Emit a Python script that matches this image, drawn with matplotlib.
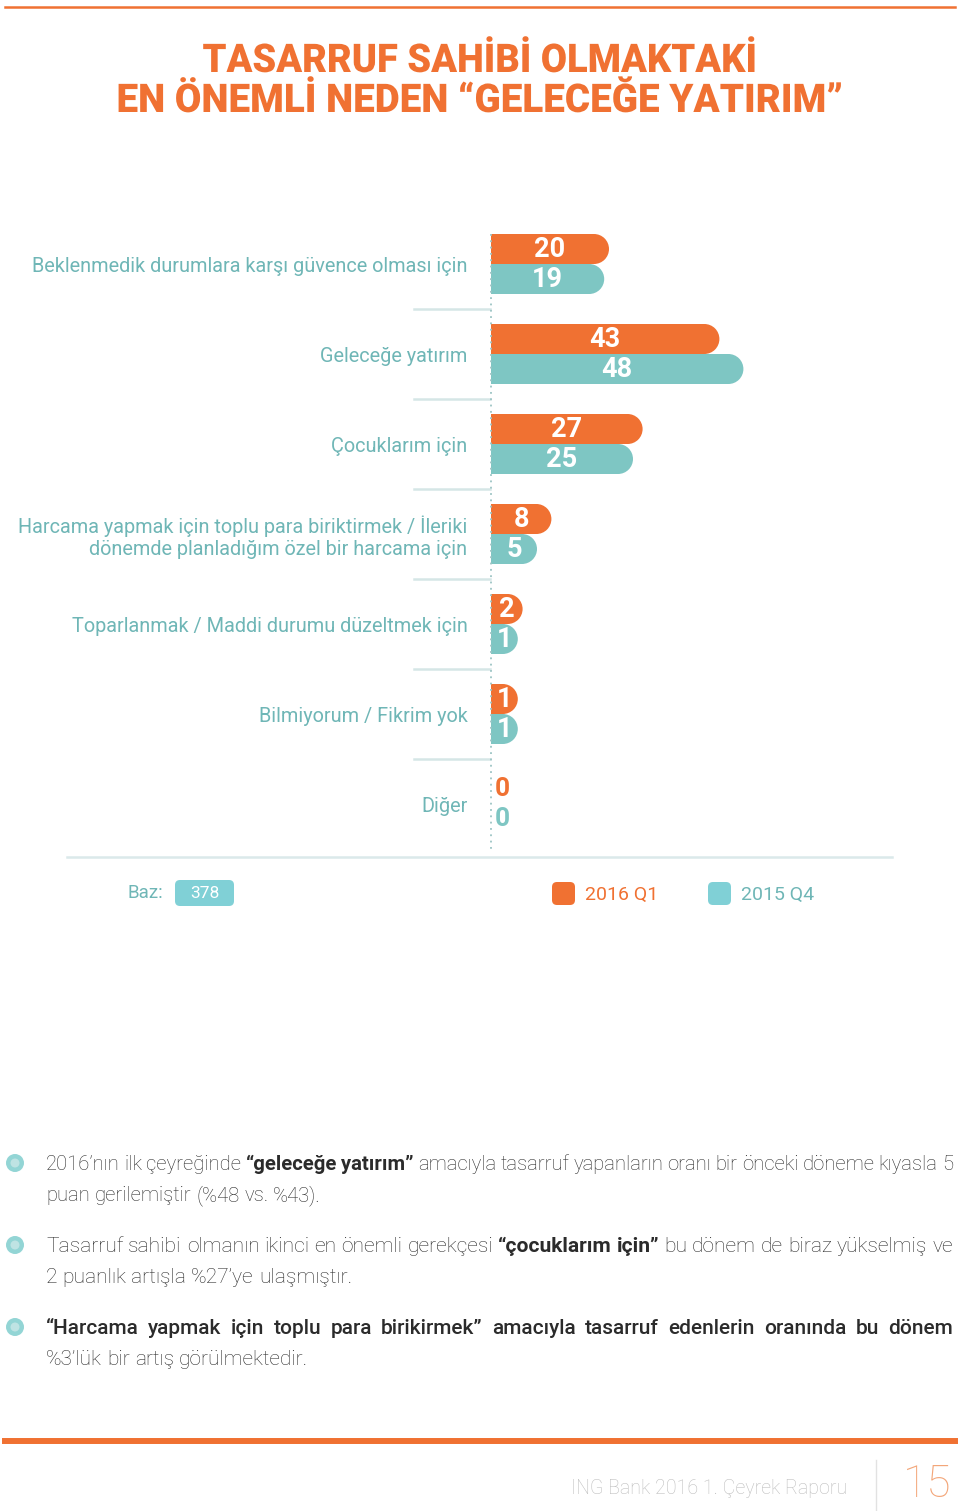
import matplotlib.pyplot as plt
import matplotlib.patheffects as pe
from matplotlib.transforms import Affine2D
from matplotlib.patches import Ellipse, FancyBboxPatch, Circle

# =============================================================================
# veriler
# =============================================================================
categories = ['Beklenmedik durumlara karşı güvence olması için',
              'Geleceğe yatırım',
              'Çocuklarım için',
              'Harcama yapmak için toplu para biriktirmek / İleriki\ndönemde planladığım özel bir harcama için',
              'Toparlanmak / Maddi durumu düzeltmek için',
              'Bilmiyorum / Fikrim yok',
              'Diğer']
q1_2016 = [20, 43, 27, 8, 2, 1, 0]
q4_2015 = [19, 48, 25, 5, 1, 1, 0]
series_names = ['2016 Q1', '2015 Q4']
base_n = 378

title_lines = ['TASARRUF SAHİBİ OLMAKTAKİ', 'EN ÖNEMLİ NEDEN “GELECEĞE YATIRIM”']

# her madde: (ilk satir parcalari, ikinci satir parcalari)
bullets = [
    ([('2016’nın ilk çeyreğinde', 'light'), ('“geleceğe yatırım”', 'bold'),
      ('amacıyla tasarruf yapanların oranı bir önceki döneme kıyasla 5', 'light')],
     [('puan gerilemiştir (%48 vs. %43).', 'light')]),
    ([('Tasarruf sahibi olmanın ikinci en önemli gerekçesi', 'light'), ('“çocuklarım için”', 'bold'),
      ('bu dönem de biraz yükselmiş ve', 'light')],
     [('2 puanlık artışla %27’ye ulaşmıştır.', 'light')]),
    ([('“Harcama yapmak için toplu para birikirmek” amacıyla tasarruf edenlerin oranında bu dönem', 'medium')],
     [('%3’lük bir artış görülmektedir.', 'light')]),
]
footer_text = 'ING Bank 2016 1. Çeyrek Raporu'
page_no = '15'

# renkler
ORANGE = '#f07132'
TEAL = '#7ec6c3'
TEAL_LEG = '#80d0d6'
LAB = '#6fb6b6'
FONT = ['Roboto', 'DejaVu Sans']

W, H = 960, 1511
fig = plt.figure(figsize=(W / 100, H / 100), dpi=100)
renderer = fig.canvas.get_renderer()


def fax(x0, y0, x1, y1):
    return [x0 / W, 1 - y1 / H, (x1 - x0) / W, (y1 - y0) / H]


class Squeeze(pe.AbstractPathEffect):
    # basligi yatayda daraltmak icin (condensed font yok)
    def __init__(self, sx, cx):
        super().__init__()
        self.sx, self.cx = sx, cx

    def draw_path(self, renderer, gc, tpath, affine, rgbFace=None):
        a = affine + Affine2D().translate(-self.cx, 0).scale(self.sx, 1).translate(self.cx, 0)
        renderer.draw_path(gc, tpath, a, rgbFace)


# arka plan eksenleri, piksel koordinatlari
bg = fig.add_axes([0, 0, 1, 1], zorder=-1)
bg.set_xlim(0, W)
bg.set_ylim(H, 0)
bg.axis('off')

# =============================================================================
# grafik
# =============================================================================
ax = fig.add_axes(fax(491, 230, 900, 856))
ax.set_facecolor('none')
PX = 4.8            # bir birim kac piksel
BASE = -22 / PX     # cubuklarin basladigi yer
ax.set_xlim(BASE, BASE + 409 / PX)
ax.set_ylim(6 + 52 / 90, -34 / 90)
bar_h = 30 / 90
cap = 15 / PX

for k, (vals, col) in enumerate([(q1_2016, ORANGE), (q4_2015, TEAL)]):
    off = (-0.5 + k) * bar_h
    for i, v in enumerate(vals):
        y = i + off
        if v > 0:
            ax.barh(y, (v - cap) - BASE, left=BASE, height=bar_h, color=col, linewidth=0)
            ax.add_patch(Ellipse((v - cap, y), 2 * cap, bar_h, color=col, lw=0))
            ax.text((BASE + v) / 2, y + 0.01, str(v), color='white', ha='center', va='center',
                    fontsize=19.5, fontweight='bold', family=FONT)
        else:
            ax.text((BASE + v) / 2, y, str(v), color=col, ha='center', va='center',
                    fontsize=19, fontweight='bold', family=FONT)

ax.set_yticks(range(len(categories)))
ax.set_yticklabels(categories, fontsize=14.3, color=LAB, family=FONT)
ax.tick_params(axis='y', length=0, pad=17)
ax.set_xticks([])
for s in ax.spines.values():
    s.set_visible(False)

# noktali eksen cizgisi ve ayiricilar
ax.plot([BASE, BASE], [-0.33, 6.53], ls=(0, (1, 2.5)), lw=1.3, color='#9cc4c4',
        clip_on=False, zorder=5)
for i in range(len(categories) - 1):
    ax.plot([BASE - 77 / PX, BASE - 1 / PX], [i + 0.5, i + 0.5], color='#d5e6e6', lw=1.8,
            clip_on=False)

# =============================================================================
# ust kisim, baslik
# =============================================================================
bg.plot([5, 955], [7, 7], color=ORANGE, lw=1.8)
for j, (line, target) in enumerate(zip(title_lines, [555, 727])):
    t = bg.text(480, 72 + 40 * j, line, ha='center', va='baseline', fontsize=28.5,
                fontweight='heavy', color=ORANGE, family=FONT)
    w = t.get_window_extent(renderer).width
    t.set_path_effects([Squeeze(target / w, 480)])

# alt cizgi, lejant
bg.plot([67, 892], [857, 857], color='#dbe9ea', lw=1.8)
bg.text(163, 893, 'Baz:', ha='right', va='center', fontsize=13.5, color=LAB, family=FONT)
bg.add_patch(FancyBboxPatch((175, 880), 59, 26, boxstyle='round,pad=0,rounding_size=5',
                            fc=TEAL_LEG, ec='none'))
bg.text(204.5, 893.5, str(base_n), ha='center', va='center', fontsize=12.5, color='white', family=FONT)
for (x, name, col, tcol) in [(552, series_names[0], ORANGE, ORANGE), (708, series_names[1], TEAL_LEG, LAB)]:
    bg.add_patch(FancyBboxPatch((x, 882), 23, 23, boxstyle='round,pad=0,rounding_size=5',
                                fc=col, ec='none'))
    bg.text(x + 33, 894.5, name, ha='left', va='center', fontsize=14, color=tcol, family=FONT)

# =============================================================================
# maddeler
# =============================================================================
def word_w(s, weight, fs):
    t = bg.text(0, 0, s, fontsize=fs, fontweight=weight, family=FONT)
    w = t.get_window_extent(renderer).width
    t.remove()
    return w


def draw_line(x0, y, runs, fs, x1=None):
    words = [(w, wt) for txt, wt in runs for w in txt.split()]
    widths = [word_w(w, wt, fs) for w, wt in words]
    space_w = word_w('a a', 'light', fs) - word_w('aa', 'light', fs)
    gap = space_w if x1 is None else (x1 - x0 - sum(widths)) / (len(words) - 1)
    x = x0
    for (w, wt), ww in zip(words, widths):
        bg.text(x, y, w, ha='left', va='baseline', fontsize=fs, fontweight=wt,
                color='#2b2b2b', family=FONT)
        x += ww + gap


first_fs = [14.6, 15.1, 15.0]
second_fs = [14.6, 15.1, 15.0]
for n, (l1, l2) in enumerate(bullets):
    yc = 1163 + 82 * n
    bg.add_patch(Circle((15, yc), 9, fc='#93d5d5', ec='none'))
    bg.add_patch(Circle((15, yc), 4.5, fc='#bfe3e3', ec='none'))
    draw_line(46, yc + 7, l1, first_fs[n], x1=953)
    draw_line(46, yc + 38, l2, second_fs[n])

# =============================================================================
# alt bilgi
# =============================================================================
bg.plot([5, 955], [1441, 1441], color=ORANGE, lw=4.3)
bg.text(847, 1488, footer_text, ha='right', va='center', fontsize=14.1, fontweight='light',
        color='#bdbdbd', family=FONT)
bg.plot([876, 876], [1460, 1511], color='#e2e2e2', lw=1)
bg.text(927, 1497, page_no, ha='center', va='baseline', fontsize=32, fontweight=100,
        color='#f3a679', family=FONT)

fig.savefig('out.png', dpi=100)
